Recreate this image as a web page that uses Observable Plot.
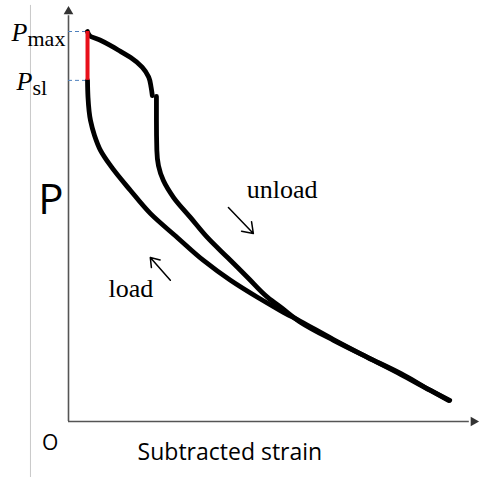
<!DOCTYPE html>
<html>
<head>
<meta charset="utf-8">
<script src="https://cdn.jsdelivr.net/npm/d3@7"></script>
<script src="https://cdn.jsdelivr.net/npm/@observablehq/plot@0.6"></script>
<style>
  html, body { margin: 0; padding: 0; background: #fff; }
</style>
</head>
<body>
<div id="chart"></div>
<script>
// Levels (arbitrary units, 0–100 scales)
const Pmax = 94.2;
const Psl = 82.4;
const sJump = 4.65;

// Loading branch
const loadStrain = [4.65, 4.77, 5.38, 6.36, 7.82, 10.27, 15.16, 20.05, 26.65, 33.0, 39.6, 46.2, 51.8, 56.7, 64.8, 73.1, 81.2, 88.5, 93.2];
const loadP      = [82.4, 78.3, 72.7, 69.1, 65.5, 61.8, 55.8, 50.2, 44.4, 38.9, 34.1, 30.0, 26.8, 24.2, 19.8, 15.5, 11.4, 7.5, 5.1];

// Unloading branch, first part (before the drop)
const unloadAStrain = [4.65, 5.2, 7.8, 10.3, 12.7, 15.2, 18.0, 19.6, 20.2, 20.5];
const unloadAP      = [94.2, 93.2, 92.1, 90.8, 89.4, 87.9, 85.6, 83.2, 80.7, 78.7];

// Unloading branch, second part (after the drop)
const unloadBStrain = [21.5, 21.5, 21.6, 22.0, 23.2, 25.7, 29.8, 34.0, 38.9, 43.8, 48.7, 52.3, 56.7, 64.8, 73.1, 81.2, 88.5, 92.9];
const unloadBP      = [78.5, 72.7, 65.5, 61.8, 58.2, 54.1, 49.3, 44.4, 39.6, 34.8, 30.0, 27.3, 24.0, 19.6, 15.5, 11.6, 7.5, 5.1];

// Annotations
const branchLabels = ["unload", "load"];
const labelStrain = [43.6, 9.8];
const labelP = [53.9, 30.0];
const arrowFromStrain = [39.1, 24.9];
const arrowFromP = [51.7, 34.1];
const arrowToStrain = [45.2, 20.0];
const arrowToP = [45.4, 39.6];

const toRows = (xs, ys, series) => xs.map((x, i) => ({x, y: ys[i], series}));
const curves = [
  ...toRows(loadStrain, loadP, "load"),
  ...toRows(unloadAStrain, unloadAP, "unloadA"),
  ...toRows(unloadBStrain, unloadBP, "unloadB")
];
const labels = branchLabels.map((t, i) => ({t, x: labelStrain[i], y: labelP[i]}));
const arrows = branchLabels.map((t, i) => ({x1: arrowFromStrain[i], y1: arrowFromP[i], x2: arrowToStrain[i], y2: arrowToP[i]}));

const serif = "'Liberation Serif', 'Times New Roman', serif";
const sans = "'Open Sans', 'Noto Sans', sans-serif";

const chart = Plot.plot({
  width: 494,
  height: 477,
  marginLeft: 68,
  marginRight: 17,
  marginTop: 7,
  marginBottom: 56,
  x: {domain: [0, 100], axis: null},
  y: {domain: [0, 100], axis: null},
  style: {background: "#fff", overflow: "visible"},
  marks: [
    // thin gray border line at left
    Plot.ruleX([-9.3], {y1: -14, y2: 100.5, stroke: "#c8c8c8", strokeWidth: 1}),
    // axes
    Plot.ruleX([0], {y1: 0, y2: 98, stroke: "#555", strokeWidth: 1.6}),
    Plot.ruleY([0], {x1: 0, x2: 98, stroke: "#555", strokeWidth: 1.6}),
    Plot.dot([0], {x: 0, y: 100, symbol: "triangle", r: 3.6, fill: "#333", stroke: null, dy: 4}),
    Plot.dot([0], {x: 100, y: 0, symbol: "triangle", r: 3.6, fill: "#333", stroke: null, rotate: 90, dx: -4}),
    // dashed level guides
    Plot.ruleY([Pmax, Psl], {x1: 0, x2: sJump, stroke: "#4f81bd", strokeWidth: 1, strokeDasharray: "4,3"}),
    // curves
    Plot.line(curves, {x: "x", y: "y", z: "series", stroke: "#000", strokeWidth: 4.8, curve: "monotone-y", strokeLinecap: "round", strokeLinejoin: "round"}),
    // red vertical segment
    Plot.ruleX([sJump], {y1: Psl, y2: Pmax, stroke: "#e8101a", strokeWidth: 4}),
    // P labels
    Plot.text([Pmax], {x: 0, y: d => d, text: () => "P", fontFamily: serif, fontStyle: "italic", fontSize: 26, textAnchor: "end", lineAnchor: "bottom", dx: -41, dy: 9, fill: "#000"}),
    Plot.text([Pmax], {x: 0, y: d => d, text: () => "max", fontFamily: serif, fontSize: 22, textAnchor: "start", lineAnchor: "bottom", dx: -41, dy: 14, fill: "#000"}),
    Plot.text([Psl], {x: 0, y: d => d, text: () => "P", fontFamily: serif, fontStyle: "italic", fontSize: 26, textAnchor: "end", lineAnchor: "bottom", dx: -36, dy: 10, fill: "#000"}),
    Plot.text([Psl], {x: 0, y: d => d, text: () => "sl", fontFamily: serif, fontSize: 22, textAnchor: "start", lineAnchor: "bottom", dx: -36, dy: 15, fill: "#000"}),
    // branch labels and arrows
    Plot.text(labels, {x: "x", y: "y", text: "t", fontFamily: serif, fontSize: 26, textAnchor: "start", lineAnchor: "bottom", fill: "#000"}),
    Plot.arrow(arrows, {x1: "x1", y1: "y1", x2: "x2", y2: "y2", stroke: "#000", strokeWidth: 1.5, headLength: 14, headAngle: 70}),
    // axis titles
    Plot.text(["P"], {x: -4.3, y: 50.2, text: d => d, fontFamily: sans, fontSize: 42, textAnchor: "middle", lineAnchor: "bottom", fill: "#000"}),
    Plot.text(["O"], {x: -4.5, y: -7.0, text: d => d, fontFamily: sans, fontSize: 21, textAnchor: "middle", lineAnchor: "bottom", fill: "#000"}),
    Plot.text(["Subtracted strain"], {x: 16.9, y: -9.4, text: d => d, fontFamily: sans, fontSize: 23, textAnchor: "start", lineAnchor: "bottom", fill: "#000"})
  ]
});
document.getElementById("chart").appendChild(chart);
</script>
</body>
</html>
